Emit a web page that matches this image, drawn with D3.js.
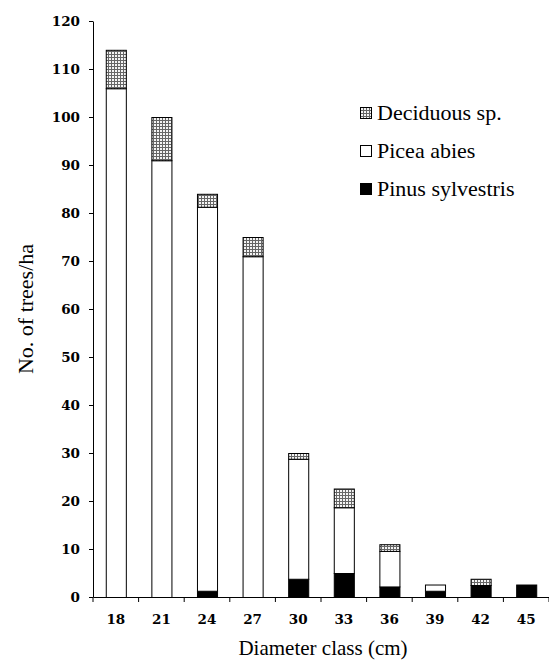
<!DOCTYPE html>
<html>
<head>
<meta charset="utf-8">
<script src="https://cdn.jsdelivr.net/npm/d3@7"></script>
<style>
  html, body { margin: 0; padding: 0; background: #fff; }
  svg { display: block; }
  .tick text { font-family: "DejaVu Serif", serif; font-weight: bold; }
  .title { font-family: "Liberation Serif", "Times New Roman", Times, serif; }
</style>
</head>
<body>
<div id="chart"></div>
<script>
const categories = ["18", "21", "24", "27", "30", "33", "36", "39", "42", "45"];
const pinus = [0, 0, 1.3, 0, 3.8, 5, 2.2, 1.3, 2.5, 2.6];
const picea = [106, 91, 80, 71, 25, 13.7, 7.4, 1.3, 0, 0];
const deciduous = [8, 9, 2.7, 4, 1.2, 3.9, 1.4, 0, 1.3, 0];
const yTicks = [0, 10, 20, 30, 40, 50, 60, 70, 80, 90, 100, 110, 120];
const seriesNames = ["Deciduous sp.", "Picea abies", "Pinus sylvestris"];

(() => {
    const width = 549, height = 661, margin = { top: 21, right: 0, bottom: 64, left: 93 };

    const rows = categories.map((c, i) => ({
        cls: c,
        "Pinus sylvestris": pinus[i],
        "Picea abies": picea[i],
        "Deciduous sp.": deciduous[i]
    }));

    const stacked = d3.stack().keys(["Pinus sylvestris", "Picea abies", "Deciduous sp."])(rows);

    const svg = d3.select("#chart").append("svg")
        .attr("width", width)
        .attr("height", height);

    // dotted fill for deciduous
    const pat = svg.append("defs").append("pattern")
        .attr("id", "dots")
        .attr("patternUnits", "userSpaceOnUse")
        .attr("width", 3).attr("height", 3);
    pat.append("rect").attr("width", 3).attr("height", 3).attr("fill", "#666");
    pat.append("rect").attr("x", 1).attr("y", 1).attr("width", 2).attr("height", 2).attr("fill", "#f4f4f4");

    const fills = { "Pinus sylvestris": "#000", "Picea abies": "#fff", "Deciduous sp.": "url(#dots)" };

    const x = d3.scaleBand()
        .domain(categories)
        .range([margin.left, width - margin.right])
        .paddingInner(0.56)
        .paddingOuter(0.28);

    const y = d3.scaleLinear()
        .domain([0, 120])
        .range([height - margin.bottom, margin.top]);

    // bars
    stacked.forEach(layer => {
        svg.append("g").selectAll("rect")
            .data(layer.filter(d => d[1] - d[0] > 0))
            .enter()
            .append("rect")
            .attr("x", d => x(d.data.cls) + 0.5)
            .attr("y", d => y(d[1]) + 0.5)
            .attr("width", x.bandwidth())
            .attr("height", d => y(d[0]) - y(d[1]))
            .attr("fill", fills[layer.key])
            .attr("stroke", "#000")
            .attr("stroke-width", 1);
    });

    // y axis
    svg.append("g")
        .attr("transform", `translate(${margin.left},0)`)
        .call(d3.axisLeft(y).tickValues(yTicks).tickSize(4).tickSizeOuter(0).tickPadding(9))
        .style("font-size", "13.5px");

    // x axis: labels at centres, ticks between classes
    const step = x.step();
    const xAxis = svg.append("g")
        .attr("transform", `translate(0,${height - margin.bottom})`)
        .call(d3.axisBottom(x).tickSize(0).tickSizeOuter(0).tickPadding(17))
        .style("font-size", "13.5px");

    const bounds = categories.map(c => x(c) + x.bandwidth() / 2 - step / 2);
    bounds.push(x(categories[categories.length - 1]) + x.bandwidth() / 2 + step / 2);
    xAxis.selectAll(".sep")
        .data(bounds)
        .enter()
        .append("line")
        .attr("class", "sep")
        .attr("x1", d => d).attr("x2", d => d)
        .attr("y1", 0).attr("y2", 5)
        .attr("stroke", "#000");

    // titles
    svg.append("text")
        .attr("class", "title")
        .attr("x", (margin.left + width) / 2 + 2)
        .attr("y", 655)
        .attr("text-anchor", "middle")
        .style("font-size", "21px")
        .text("Diameter class (cm)");

    svg.append("text")
        .attr("class", "title")
        .attr("transform", `translate(33,309) rotate(-90)`)
        .attr("text-anchor", "middle")
        .style("font-size", "22px")
        .text("No. of trees/ha");

    // legend
    const legend = svg.append("g").attr("transform", "translate(360,113)");
    seriesNames.forEach((name, i) => {
        const g = legend.append("g").attr("transform", `translate(0,${i * 38})`);
        g.append("rect")
            .attr("x", 0.5).attr("y", -5.5)
            .attr("width", 11).attr("height", 11)
            .attr("fill", fills[name])
            .attr("stroke", "#000");
        g.append("text")
            .attr("class", "title")
            .attr("x", 17)
            .attr("y", 7)
            .style("font-size", "22px")
            .text(name);
    });
})();
</script>
</body>
</html>
